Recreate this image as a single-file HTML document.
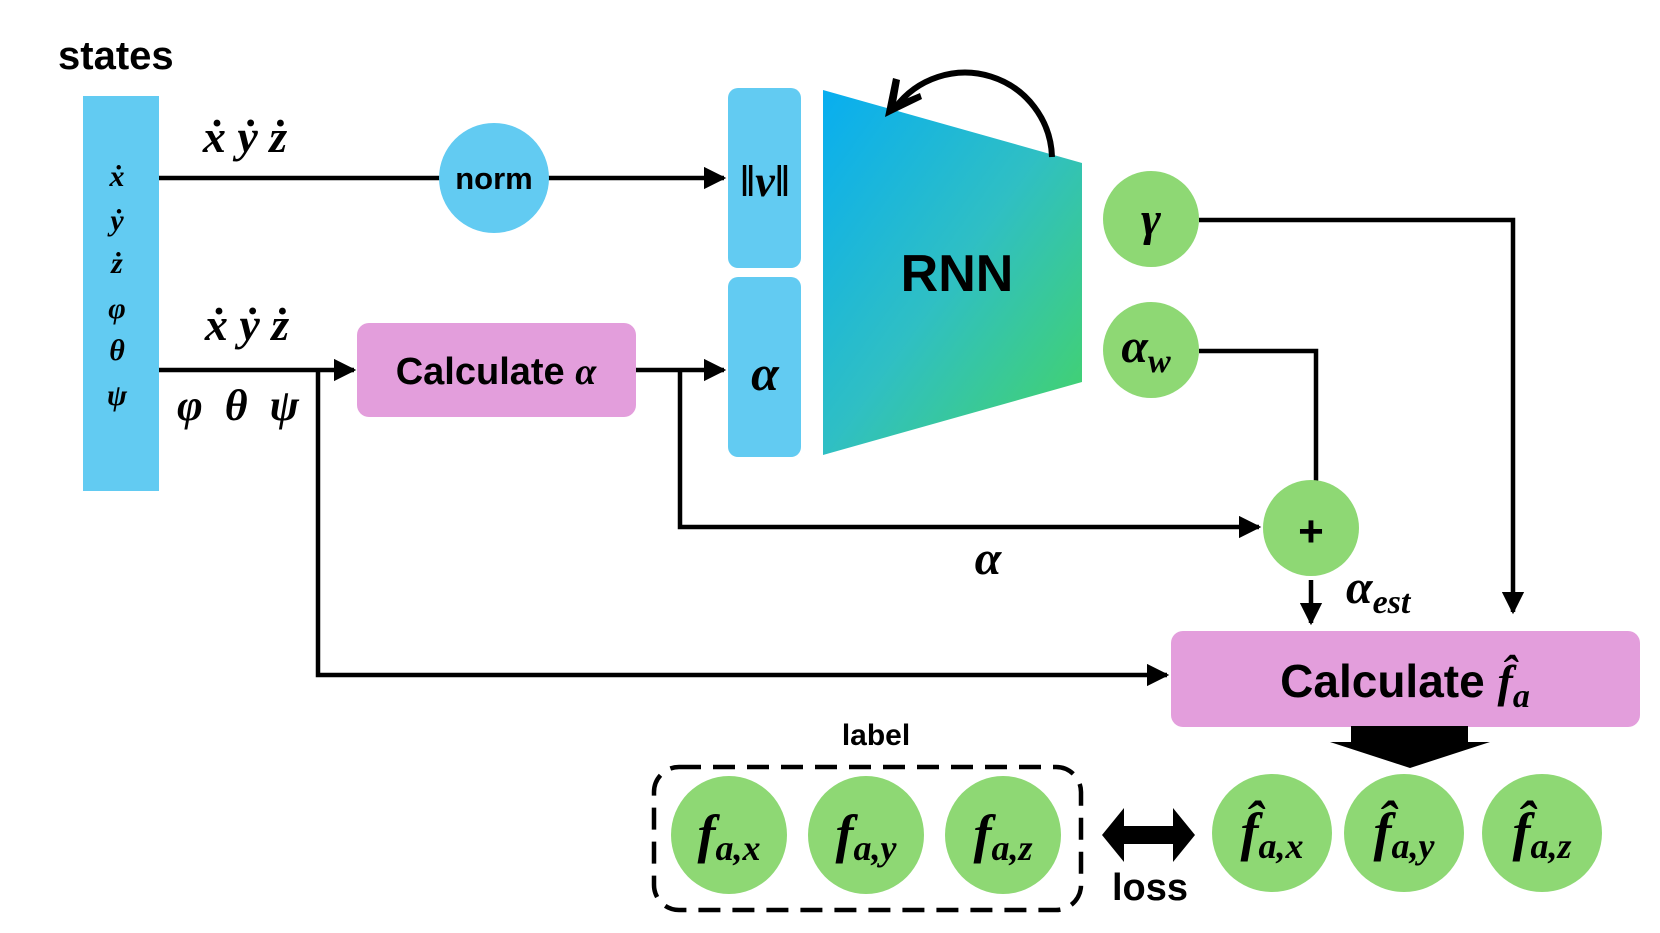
<!DOCTYPE html>
<html><head><meta charset="utf-8"><style>
html,body{margin:0;padding:0;background:#fff;}
svg{display:block;}
.s{font-family:"Liberation Sans",sans-serif;font-weight:bold;}
.m{font-family:"Liberation Serif",serif;font-style:italic;font-weight:bold;}
</style></head><body>
<svg width="1660" height="933" viewBox="0 0 1660 933" xmlns="http://www.w3.org/2000/svg">
<defs>
<linearGradient id="g" x1="0" y1="0" x2="1" y2="1">
<stop offset="0" stop-color="#08aef0"/><stop offset="0.5" stop-color="#2fbfc4"/><stop offset="1" stop-color="#45d464"/>
</linearGradient>
<marker id="a" markerWidth="5" markerHeight="5" refX="4.5" refY="2.5" orient="auto" markerUnits="strokeWidth"><path d="M0,0 L5,2.5 L0,5 z" fill="#000"/></marker>
</defs>
<g stroke="#000" stroke-width="4.5" fill="none">
<path d="M159,178 H724" marker-end="url(#a)"/>
<path d="M159,370 H354" marker-end="url(#a)"/>
<path d="M636,370 H724" marker-end="url(#a)"/>
<path d="M318,370 V675 H1167" marker-end="url(#a)"/>
<path d="M680,370 V527 H1259" marker-end="url(#a)"/>
<path d="M1199,220 H1513 V612" marker-end="url(#a)"/>
<path d="M1199,351 H1316 V484"/>
<path d="M1311,580 V623" marker-end="url(#a)"/>
</g>
<text x="58" y="69" class="s" font-size="40">states</text>
<rect x="83" y="96" width="76" height="395" fill="#62cbf2"/>
<g class="m" font-size="30" text-anchor="middle">
<text x="117" y="186">ẋ</text><text x="117" y="230">ẏ</text><text x="117" y="273">ż</text>
<text x="117" y="318">φ</text><text x="117" y="360">θ</text><text x="117" y="405">ψ</text>
</g>
<text x="245" y="152" class="m" font-size="46" text-anchor="middle">ẋ ẏ ż</text>
<text x="247" y="340" class="m" font-size="46" text-anchor="middle">ẋ ẏ ż</text>
<text x="238" y="420" class="m" font-size="44" text-anchor="middle" xml:space="preserve">φ  θ  ψ</text>
<circle cx="494" cy="178" r="55" fill="#62cbf2"/>
<text x="494" y="189" class="s" font-size="31" text-anchor="middle">norm</text>
<rect x="728" y="88" width="73" height="180" rx="10" fill="#62cbf2"/>
<text x="765" y="196" class="m" font-size="44" text-anchor="middle">‖v‖</text>
<rect x="728" y="277" width="73" height="180" rx="10" fill="#62cbf2"/>
<text x="765" y="390" class="m" font-size="50" text-anchor="middle">α</text>
<rect x="357" y="323" width="279" height="94" rx="12" fill="#e39edc"/>
<text x="496" y="384" class="s" font-size="38" text-anchor="middle">Calculate <tspan class="m">α</tspan></text>
<path d="M823,90 L1082,163 L1082,382 L823,455 Z" fill="url(#g)"/>
<text x="957" y="291" class="s" font-size="52" text-anchor="middle">RNN</text>
<path d="M1052,157 A87,87 0 0 0 895,108" stroke="#000" stroke-width="6" fill="none"/>
<path d="M885,117 L893,78 L900,80 L896,103 L920,93 L922,99 Z" fill="#000"/>
<circle cx="1151" cy="219" r="48" fill="#8ed874"/>
<text x="1151" y="235" class="m" font-size="48" text-anchor="middle">γ</text>
<circle cx="1151" cy="350" r="48" fill="#8ed874"/>
<text x="1146" y="362" class="m" font-size="48" text-anchor="middle">α<tspan font-size="34" dy="10">w</tspan></text>
<circle cx="1311" cy="528" r="48" fill="#8ed874"/>
<text x="1311" y="546" class="s" font-size="44" text-anchor="middle">+</text>
<text x="988" y="574" class="m" font-size="48" text-anchor="middle">α</text>
<text x="1346" y="603" class="m" font-size="48">α<tspan font-size="34" dy="10">est</tspan></text>
<rect x="1171" y="631" width="469" height="96" rx="12" fill="#e39edc"/>
<text x="1405" y="697" class="s" font-size="46" text-anchor="middle">Calculate <tspan class="m">f̂</tspan><tspan class="m" font-size="34" dy="10">a</tspan></text>
<path d="M1351,726 H1468 V742 H1490 L1410,768 L1330,742 H1351 Z" fill="#000"/>
<text x="876" y="745" class="s" font-size="30" text-anchor="middle">label</text>
<rect x="654" y="767" width="427" height="143" rx="25" fill="none" stroke="#000" stroke-width="4.5" stroke-dasharray="22,12"/>
<g fill="#8ed874">
<ellipse cx="729" cy="835" rx="58" ry="59"/><ellipse cx="866" cy="835" rx="58" ry="59"/><ellipse cx="1003" cy="835" rx="58" ry="59"/>
<ellipse cx="1272" cy="833" rx="60" ry="59"/><ellipse cx="1404" cy="833" rx="60" ry="59"/><ellipse cx="1542" cy="833" rx="60" ry="59"/>
</g>
<g class="m" font-size="54" text-anchor="middle">
<text x="729" y="852">f<tspan font-size="36" dy="8">a,x</tspan></text>
<text x="866" y="852">f<tspan font-size="36" dy="8">a,y</tspan></text>
<text x="1003" y="852">f<tspan font-size="36" dy="8">a,z</tspan></text>
<text x="1272" y="850">f̂<tspan font-size="36" dy="8">a,x</tspan></text>
<text x="1404" y="850">f̂<tspan font-size="36" dy="8">a,y</tspan></text>
<text x="1542" y="850">f̂<tspan font-size="36" dy="8">a,z</tspan></text>
</g>
<path d="M1102,835 L1124,808 V826 H1173 V808 L1195,835 L1173,862 V844 H1124 V862 Z" fill="#000"/>
<text x="1150" y="900" class="s" font-size="38" text-anchor="middle">loss</text>
</svg>
</body></html>
